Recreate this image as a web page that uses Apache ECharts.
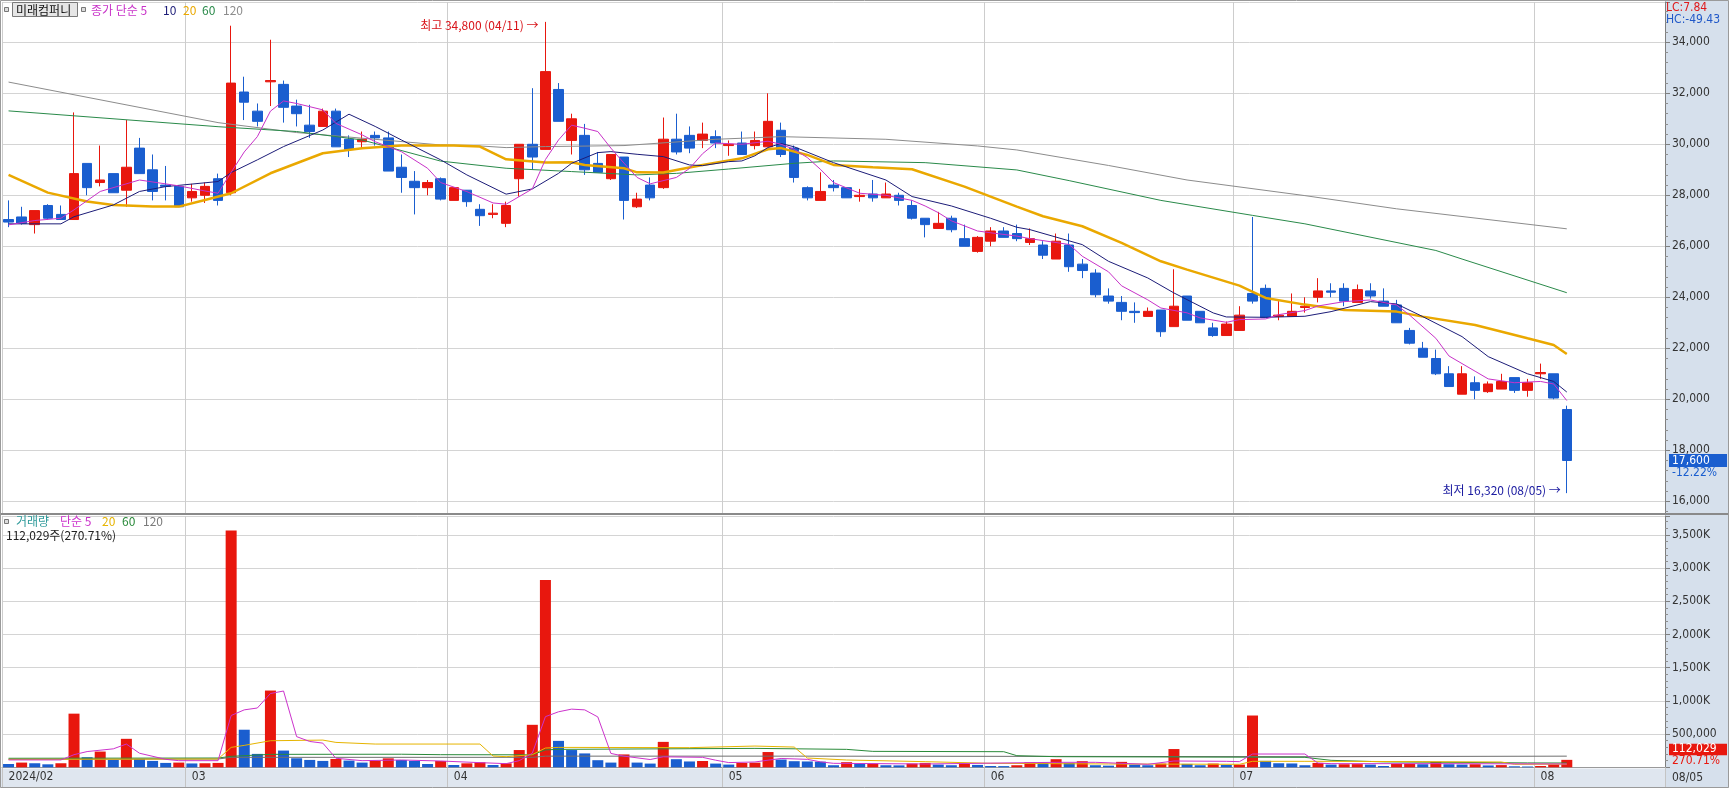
<!DOCTYPE html>
<html><head><meta charset="utf-8">
<script src="https://cdn.jsdelivr.net/npm/echarts@6.0.0/dist/echarts.min.js"></script>
<style>html,body{margin:0;padding:0;background:#fff;}#c{width:1729px;height:788px;}</style>
</head><body><div id="c"></div>
<script>
const YEAR = '2024';
const dates = ['02/08','02/13','02/14','02/15','02/16','02/19','02/20','02/21','02/22','02/23','02/26','02/27','02/28','02/29',
'03/04','03/05','03/06','03/07','03/08','03/11','03/12','03/13','03/14','03/15','03/18','03/19','03/20','03/21','03/22','03/25','03/26','03/27','03/28','03/29',
'04/01','04/02','04/03','04/04','04/05','04/08','04/09','04/11','04/12','04/15','04/16','04/17','04/18','04/19','04/22','04/23','04/24','04/25','04/26','04/29','04/30',
'05/02','05/03','05/07','05/08','05/09','05/10','05/13','05/14','05/16','05/17','05/20','05/21','05/22','05/23','05/24','05/27','05/28','05/29','05/30','05/31',
'06/03','06/04','06/05','06/07','06/10','06/11','06/12','06/13','06/14','06/17','06/18','06/19','06/20','06/21','06/24','06/25','06/26','06/27','06/28',
'07/01','07/02','07/03','07/04','07/05','07/08','07/09','07/10','07/11','07/12','07/15','07/16','07/17','07/18','07/19','07/22','07/23','07/24','07/25','07/26','07/29','07/30','07/31',
'08/01','08/02','08/05'];
const opens = [27050,27150,26850,27600,27250,27050,29250,28500,28850,28200,
29850,29000,28400,28350,27900,28000,28650,28100,32050,31300,
32450,32350,31500,30750,30700,31300,30200,30100,30350,30250,
29100,28550,28300,28650,27800,28200,27450,27250,26900,28650,
30000,29800,32150,30150,30350,29250,28650,29500,27550,28400,
28300,30200,30350,30150,30300,29950,30050,29950,29900,30550,
29850,28300,27800,28400,28300,27950,28050,27900,28000,27600,
27100,26700,27100,26300,25800,26200,26600,26500,26150,26050,
25500,26050,25300,24950,24050,23800,23450,23250,23500,22850,
24050,23450,22800,22500,22700,24150,24350,23250,23250,23600,
24000,24250,24350,23800,24250,23850,23700,22700,22000,21600,
21000,20200,20650,20300,20400,20850,20350,21000,21000,19600];
const closes = [26950,26900,27400,27100,27050,28850,28300,28600,28100,29100,
28850,28150,28350,27550,28150,28350,27800,32400,31650,30900,
32500,31450,31200,30500,31300,29900,29800,30200,30250,28950,
28700,28300,28500,27850,28300,27750,27200,27300,27600,30000,
29500,32850,30900,31000,29000,28900,29600,27800,27850,27900,
30200,29700,29850,30400,30050,30000,29600,30150,30900,29600,
28700,27900,28150,28300,27900,28000,27900,28050,27800,27100,
26850,26900,26650,26000,26350,26600,26350,26300,26300,25650,
26200,25200,25050,24100,23850,23450,23400,23450,22650,23650,
23100,23000,22500,22950,23300,23850,23200,23300,23450,23650,
24250,24200,23850,24300,24050,23650,23000,22200,21650,21000,
20500,21000,20350,20600,20700,20350,20650,21050,20050,17600];
const lows = [26750,26850,26500,27050,27050,27050,28000,28350,28100,27550,
28850,27800,27800,27550,27750,27700,27600,28000,30950,30700,
31500,30850,30700,30250,30700,29900,29500,29850,29950,28950,
28100,27250,28000,27800,27800,27550,26800,27100,26750,27950,
29000,29800,30900,29600,28800,28900,28600,27050,27500,27800,
28250,29600,29650,29850,29850,29550,29600,29800,29900,29500,
28500,27800,27800,28150,27900,27750,27750,27900,27600,27050,
26350,26700,26550,26000,25750,26000,26350,26200,26050,25500,
25500,25000,24750,24000,23750,23100,23000,23250,22450,22850,
23100,23000,22450,22500,22700,23750,23200,23100,23250,23400,
23800,24000,23650,23800,23950,23650,23000,22150,21650,20950,
20500,20200,20000,20250,20400,20250,20100,20800,20000,16320];
const highs = [27800,27550,27400,27650,27600,31250,29250,29950,28850,30950,
30250,29600,29150,28400,28450,28500,28850,34650,32650,31600,
34100,32500,31750,31550,31400,31400,30350,30500,30500,30500,
29600,28950,28600,28700,28300,28200,27650,27650,27750,30000,
32200,34800,32400,31200,30800,29700,29600,29500,28100,28700,
31050,31200,30700,30850,30550,30150,30500,30500,32000,30850,
29950,28350,28900,28600,28300,28250,28600,28500,28100,27800,
27100,27350,27200,26850,26400,26750,26750,26850,26700,26200,
26500,26500,25500,25100,24350,24050,23800,23600,23500,25100,
24050,23450,23000,23050,23650,27150,24500,23850,24150,24000,
24750,24550,24550,24500,24550,24350,23900,22800,22250,21950,
21300,21300,20900,20700,21000,20850,20800,21400,21000,19750];
const volumes = [50000,71000,61000,45000,61000,808000,152000,237000,111000,429000,
126000,96000,66000,71000,58000,61000,66000,3567000,566000,202000,
1156000,252000,136000,111000,96000,126000,101000,71000,100000,135000,
110000,95000,50000,95000,35000,60000,75000,35000,60000,260000,
640000,2820000,398000,260000,209000,107000,71000,194000,71000,56000,
383000,122000,88000,95000,56000,41000,65000,70000,230000,117000,
92000,88000,85000,31000,77000,51000,55000,31000,29000,56000,
66000,41000,31000,51000,36000,20000,18000,31000,75000,71000,
122000,66000,92000,31000,25000,82000,41000,31000,56000,275000,
51000,31000,56000,36000,41000,780000,97000,61000,58000,31000,
66000,41000,46000,48000,41000,20000,51000,53000,46000,82000,
46000,41000,46000,28000,33000,15000,12000,20000,41384,112029];

// moving averages: [day index, value]
const ma5 = [[0,26840],[2,27010],[4,27100],[5,27430],[7,28150],[10,28600],[13,28370],[15,28170],[16,28080],[17,28900],[18,29700],[19,30300],[20,31300],[21,31700],[22,31600],[24,31350],[25,30820],[27,30370],[28,30100],[30,29710],[32,29060],[33,28500],[35,28145],[37,27700],[38,27650],[40,28250],[41,29400],[42,30170],[43,30750],[44,30630],[45,30500],[46,29850],[47,29260],[48,28700],[49,28450],[51,28700],[52,29050],[53,29630],[54,30050],[56,30000],[58,30120],[59,30000],[60,29800],[61,29480],[62,29020],[63,28500],[65,28080],[67,28000],[69,27800],[70,27580],[71,27320],[72,27000],[74,26600],[75,26530],[77,26400],[78,26300],[81,26070],[82,25610],[84,25000],[85,24450],[87,23900],[88,23580],[90,23390],[91,23190],[93,23020],[94,23125],[96,23150],[97,23320],[99,23480],[100,23660],[102,23830],[104,23895],[106,23700],[107,23300],[109,22392],[110,21700],[112,21100],[113,20800],[115,20650],[117,20700],[118,20600],[119,19950]];
const ma10 = [[0,26880],[4,26880],[5,27160],[8,27620],[10,28150],[12,28340],[16,28540],[17,28890],[19,29390],[21,29910],[24,30560],[26,31180],[28,30700],[30,30170],[33,29390],[35,28800],[38,28045],[40,28250],[42,28860],[43,29255],[45,29674],[46,29713],[48,29608],[50,29517],[52,29190],[53,29164],[55,29321],[56,29347],[57,29550],[58,29875],[59,30030],[60,29900],[63,29280],[67,28600],[69,27950],[72,27582],[75,27099],[77,26746],[78,26654],[82,26066],[84,25412],[87,24758],[89,24170],[92,23386],[93,23229],[96,23216],[99,23256],[101,23438],[104,23830],[106,23739],[108,23242],[111,22458],[113,21673],[116,21000],[118,20700],[119,20285]];
const ma20 = [[0,28800],[3,28105],[6,27753],[8,27622],[11,27556],[13,27556],[15,27818],[17,28080],[20,28863],[24,29648],[27,29844],[30,29948],[34,29948],[36,29909],[38,29412],[41,29282],[43,29295],[44,29190],[47,29060],[48,28900],[50,28890],[51,28990],[53,29190],[56,29450],[58,29804],[59,29850],[61,29582],[63,29190],[66,29100],[69,29020],[73,28340],[77,27556],[79,27177],[82,26785],[85,26131],[88,25412],[90,25085],[94,24458],[96,23974],[99,23713],[102,23503],[106,23438],[108,23242],[112,22915],[116,22392],[118,22131],[119,21778]];
const ma60 = [[0,31310],[16,30690],[22,30500],[27,30170],[33,29340],[38,29060],[43,28930],[48,28800],[51,28860],[55,29030],[60,29255],[63,29347],[70,29280],[77,28994],[81,28575],[88,27800],[95,27212],[99,26881],[109,25836],[111,25500],[119,24180]];
const ma120 = [[0,32440],[16,30850],[22,30460],[33,29974],[36,29935],[38,29870],[41,29910],[47,29950],[54,30196],[59,30300],[67,30196],[74,29935],[77,29778],[84,29170],[90,28600],[99,27987],[106,27470],[119,26685]];
const vma5 = [[0,111000],[4,111000],[5,190000],[6,237000],[8,278000],[9,350000],[10,212000],[12,120000],[13,100000],[16,100000],[17,780000],[18,865000],[19,893000],[20,1111000],[21,1149000],[22,462000],[23,389000],[24,364000],[25,136000],[27,100000],[30,110000],[33,95000],[36,70000],[38,55000],[39,100000],[40,212000],[41,763000],[42,836000],[43,876000],[44,865000],[45,759000],[46,209000],[47,168000],[49,117000],[50,158000],[53,150000],[54,107000],[55,71000],[57,80000],[58,107000],[59,133000],[61,120000],[62,82000],[63,60000],[70,50000],[80,75000],[83,75000],[87,45000],[89,95000],[93,90000],[94,85000],[95,200000],[99,200000],[100,63000],[101,55000],[110,55000],[119,50000]];
const vma20 = [[0,120000],[16,125000],[17,300000],[18,330000],[20,400000],[24,410000],[25,375000],[28,350000],[36,350000],[37,170000],[38,160000],[40,190000],[41,290000],[42,300000],[52,296000],[57,320000],[60,305000],[61,140000],[64,110000],[70,85000],[75,60000],[84,50000],[94,45000],[95,90000],[99,90000],[104,88000],[108,85000],[114,80000],[115,45000],[119,48000]];
const vma60 = [[0,136000],[16,140000],[17,165000],[20,195000],[30,197000],[33,190000],[40,188000],[41,262000],[42,270000],[57,285000],[64,270000],[66,240000],[76,235000],[77,175000],[80,160000],[99,150000],[101,105000],[105,82000],[116,66000],[119,65000]];
const vma120 = [[0,121000],[16,125000],[17,150000],[40,150000],[41,168000],[60,168000],[100,160000],[119,168000]];

const stockName = '미래컴퍼니';

const NUM_FONT = '"Liberation Sans Narrow","DejaVu Sans Condensed","Liberation Sans",sans-serif';
const KR_FONT = '"Noto Sans CJK KR","Noto Sans",sans-serif';
const UP = '#e8170e', DOWN = '#1a5ecf';
const C_MA5 = '#c832c8', C_MA10 = '#1c1c78', C_MA20 = '#eaa800', C_MA60 = '#2a8a4a', C_MA120 = '#8c8c8c';

const N = dates.length, PAD = 7;
const slots = dates.concat(Array(PAD).fill(''));
const isMonthStart = i => i < N && (i === 0 || dates[i].slice(0,2) !== dates[i-1].slice(0,2));
const monthLabel = i => (i === 0 ? YEAR + '/' : '') + dates[i].slice(0,2);

const candles = dates.map((d,i) => [opens[i], closes[i], lows[i], highs[i]]);
const volBars = volumes.map((v,i) => ({value: v, itemStyle: {color: (i > 0 && v > volumes[i-1]) ? UP : DOWN}}));

function line(data, color, width, gi) {
  return {type:'line', data, xAxisIndex:gi, yAxisIndex:gi, showSymbol:false, symbol:'none',
    lineStyle:{color, width}, itemStyle:{color}, z:3, silent:true};
}

const axisCommon = {
  position:'right',
  axisLine:{show:true, lineStyle:{color:'#7f7f7f'}},
  axisTick:{show:true, length:5, lineStyle:{color:'#7f7f7f'}},
  minorTick:{show:true, splitNumber:5, length:3, lineStyle:{color:'#8f8f8f'}},
  splitLine:{show:true, lineStyle:{color:'#d4d4d4'}}
};

const chart = echarts.init(document.getElementById('c'), null, {renderer:'canvas', width:1729, height:788});
const option = {
  animation:false,
  backgroundColor:'#ffffff',
  grid:[{left:2, top:2, width:1663, height:511}, {left:2, top:516, width:1663, height:251.3}],
  xAxis:[
    {type:'category', gridIndex:0, data:slots, boundaryGap:true,
      axisLine:{show:false}, axisTick:{show:false}, axisLabel:{show:false},
      splitLine:{show:true, interval:(i)=>isMonthStart(i), lineStyle:{color:'#cdcdcd'}}},
    {type:'category', gridIndex:1, data:slots, boundaryGap:true,
      axisLine:{show:true, lineStyle:{color:'#9a9a9a'}},
      axisTick:{show:true, interval:(i)=>isMonthStart(i), length:20, lineStyle:{color:'#c4c4c4'}},
      axisLabel:{show:true, interval:(i)=>isMonthStart(i), formatter:(v,i)=>monthLabel(i), align:'left',
        margin:4, color:'#333', fontSize:12, fontFamily:NUM_FONT},
      splitLine:{show:true, interval:(i)=>isMonthStart(i), lineStyle:{color:'#cdcdcd'}}}
  ],
  yAxis:[
    Object.assign({type:'value', gridIndex:0, min:15541, max:35580, splitNumber:10, scale:true,
      axisLabel:{margin:7, color:'#333', fontSize:12, fontFamily:NUM_FONT, showMinLabel:false, showMaxLabel:false,
        formatter:v=>v.toLocaleString('en-US')}}, axisCommon),
    Object.assign({type:'value', gridIndex:1, min:0, max:3785000, interval:500000,
      axisLabel:{margin:7, color:'#333', fontSize:12, fontFamily:NUM_FONT, showMinLabel:false, showMaxLabel:false,
        formatter:v=> v >= 1000000 ? (v/1000).toLocaleString('en-US') + 'K' : v.toLocaleString('en-US')}}, axisCommon)
  ],
  series:[
    {type:'candlestick', xAxisIndex:0, yAxisIndex:0, data:candles, barWidth:10, z:2,
      itemStyle:{color:UP, color0:DOWN, borderColor:UP, borderColor0:DOWN, borderWidth:1}},
    line(ma120, C_MA120, 1, 0),
    line(ma60, C_MA60, 1, 0),
    line(ma20, C_MA20, 2.5, 0),
    line(ma10, C_MA10, 1, 0),
    line(ma5, C_MA5, 1, 0),
    {type:'bar', xAxisIndex:1, yAxisIndex:1, data:volBars, barWidth:11, z:2},
    line(vma120, '#6f6f6f', 1, 1),
    line(vma60, '#2a8a3a', 1, 1),
    line(vma20, '#e6b400', 1, 1),
    line(vma5, '#cc33cc', 1, 1)
  ]
};
chart.setOption(option);

// ---------- decorations positioned through the chart's own scales ----------
function txt(x, y, text, fill, font, align, z) {
  return {type:'text', x, y, silent:true, z: z == null ? 20 : z,
    style:{text, fill, font, textAlign: align || 'left', textVerticalAlign:'middle', align: align || 'left', verticalAlign:'middle'}};
}
const f12 = '12px ' + KR_FONT;
const n12 = '12px ' + NUM_FONT;
const last = N - 1;
const maxIdx = highs.indexOf(Math.max(...highs));
const minIdx = lows.indexOf(Math.min(...lows));
const hp = chart.convertToPixel({gridIndex:0}, [maxIdx, highs[maxIdx]]);
const lp = chart.convertToPixel({gridIndex:0}, [minIdx, lows[minIdx]]);
const cp = chart.convertToPixel({gridIndex:0}, [last, closes[last]]);
const vp = chart.convertToPixel({gridIndex:1}, [last, volumes[last]]);
const v0 = chart.convertToPixel({gridIndex:1}, [last, 0]);
const vy = Math.min(vp[1], v0[1] - 18);
const chg = ((closes[last] / closes[last-1] - 1) * 100).toFixed(2);
const vr = (volumes[last] / volumes[last-1] * 100).toFixed(2);
const lc = ((closes[last] / lows[minIdx] - 1) * 100).toFixed(2);
const hc = ((closes[last] / highs[maxIdx] - 1) * 100).toFixed(2);
const fmt = v => v.toLocaleString('en-US');

const g = [
  {type:'rect', silent:true, z:-10, shape:{x:1665, y:0, width:64, height:788}, style:{fill:'#d6e0ec'}},
  {type:'rect', silent:true, z:-10, shape:{x:0, y:768.5, width:1665, height:20}, style:{fill:'#dfe6ef'}},
  {type:'rect', silent:true, z:15, shape:{x:0, y:513, width:1729, height:2}, style:{fill:'#8a8a8a'}},
  {type:'rect', silent:true, z:15, shape:{x:0.5, y:0.5, width:1728, height:787}, style:{fill:null, stroke:'#9a9a9a', lineWidth:1}},
  // price legend
  {type:'rect', silent:true, z:20, shape:{x:4.5, y:7.5, width:4, height:4}, style:{fill:'#dcdcdc', stroke:'#777'}},
  {type:'rect', silent:true, z:20, shape:{x:12.5, y:2.5, width:65, height:14}, style:{fill:'#e6e6e6', stroke:'#7a7a7a'}},
  txt(16, 10, stockName, '#111', f12),
  {type:'rect', silent:true, z:20, shape:{x:81.5, y:7.5, width:4, height:4}, style:{fill:'#dcdcdc', stroke:'#777'}},
  txt(91, 10, '종가 단순 5', C_MA5, f12),
  txt(163, 10, '10', C_MA10, f12),
  txt(183, 10, '20', C_MA20, f12),
  txt(202, 10, '60', C_MA60, f12),
  txt(223, 10, '120', C_MA120, f12),
  // volume legend
  {type:'rect', silent:true, z:20, shape:{x:4.5, y:519.5, width:4, height:4}, style:{fill:'#dcdcdc', stroke:'#777'}},
  txt(16, 521, '거래량', '#2e9a9a', f12),
  txt(60, 521, '단순 5', '#cc33cc', f12),
  txt(102, 521, '20', '#e6b400', f12),
  txt(122, 521, '60', '#2a8a3a', f12),
  txt(143, 521, '120', '#7a7a7a', f12),
  txt(6, 535, fmt(volumes[last]) + '주(' + vr + '%)', '#222', f12),
  // high / low annotations
  txt(hp[0] - 7, hp[1] + 4, '최고 ' + fmt(highs[maxIdx]) + ' (' + dates[maxIdx] + ') →', '#d8141a', f12, 'right'),
  txt(lp[0] - 6, lp[1] - 3, '최저 ' + fmt(lows[minIdx]) + ' (' + dates[minIdx] + ') →', '#1a1aa0', f12, 'right'),
  // right side info
  txt(1666, 7.5, 'LC:' + lc, '#e0181a', n12),
  txt(1666, 20, 'HC:' + hc, '#2058c8', n12),
  {type:'rect', silent:true, z:20, shape:{x:1669, y:cp[1] - 6.5, width:58, height:13}, style:{fill:DOWN}},
  txt(1672, cp[1], fmt(closes[last]), '#ffffff', n12, 'left', 21),
  txt(1672, cp[1] + 12.5, chg + '%', DOWN, n12),
  {type:'rect', silent:true, z:20, shape:{x:1669, y:vy - 5.5, width:58, height:11.5}, style:{fill:UP}},
  txt(1672, vy, fmt(volumes[last]), '#ffffff', n12, 'left', 21),
  txt(1672, vy + 12, vr + '%', UP, n12),
  txt(1672, 778, dates[last], '#333', n12)
];
chart.setOption({graphic: g});
</script>
</body></html>
